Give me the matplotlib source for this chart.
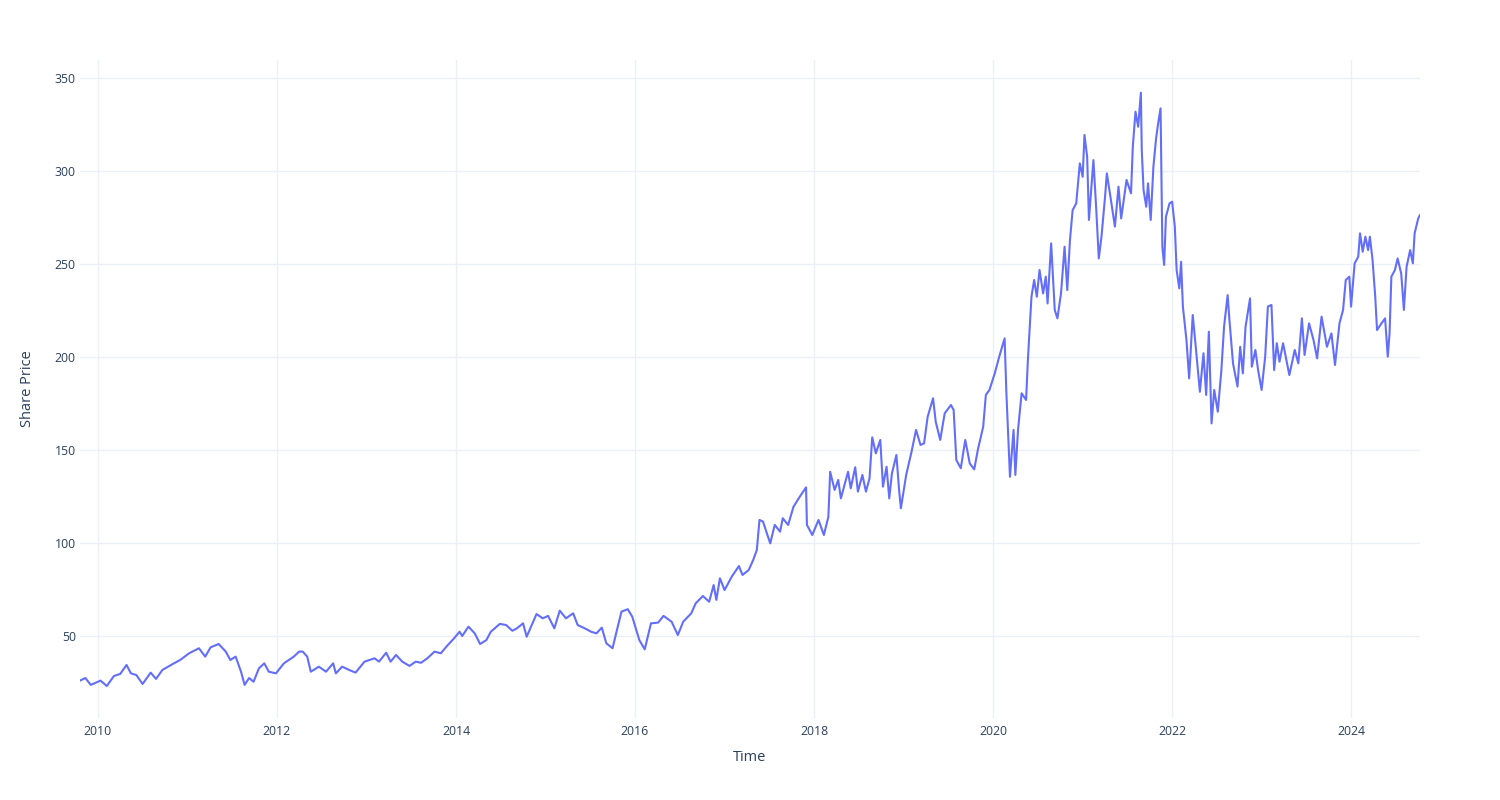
import pandas as pd
import numpy as np
import matplotlib
matplotlib.use('Agg')
import matplotlib.pyplot as plt
import matplotlib.dates as mdates

# Share price (decimal year, price)
years = [
    2009.80, 2009.86, 2009.92, 2010.03, 2010.10, 2010.18, 2010.25, 2010.32, 2010.37, 2010.43,
    2010.50, 2010.59, 2010.65, 2010.72, 2010.85, 2010.92, 2011.02, 2011.13, 2011.20, 2011.26,
    2011.35, 2011.43, 2011.48, 2011.54, 2011.60, 2011.64, 2011.69, 2011.74, 2011.80, 2011.86,
    2011.91, 2011.99, 2012.08, 2012.19, 2012.25, 2012.29, 2012.34, 2012.38, 2012.47, 2012.55,
    2012.63, 2012.66, 2012.73, 2012.81, 2012.88, 2012.98, 2013.09, 2013.14, 2013.22, 2013.27,
    2013.33, 2013.40, 2013.48, 2013.55, 2013.61, 2013.68, 2013.76, 2013.83, 2013.91, 2013.98,
    2014.04, 2014.07, 2014.14, 2014.21, 2014.27, 2014.34, 2014.39, 2014.49, 2014.56, 2014.63,
    2014.68, 2014.75, 2014.79, 2014.90, 2014.97, 2015.03, 2015.10, 2015.16, 2015.23, 2015.31,
    2015.36, 2015.44, 2015.51, 2015.57, 2015.63, 2015.68, 2015.75, 2015.79, 2015.85, 2015.92,
    2015.97, 2016.05, 2016.11, 2016.18, 2016.26, 2016.32, 2016.41, 2016.48, 2016.54, 2016.63,
    2016.68, 2016.76, 2016.83, 2016.88, 2016.91, 2016.95, 2017.00, 2017.08, 2017.16, 2017.20,
    2017.27, 2017.32, 2017.36, 2017.39, 2017.43, 2017.46, 2017.51, 2017.56, 2017.62, 2017.65,
    2017.71, 2017.77, 2017.84, 2017.91, 2017.92, 2017.98, 2018.05, 2018.11, 2018.16, 2018.18,
    2018.23, 2018.27, 2018.30, 2018.38, 2018.41, 2018.46, 2018.49, 2018.54, 2018.58, 2018.62,
    2018.65, 2018.69, 2018.74, 2018.77, 2018.81, 2018.84, 2018.87, 2018.92, 2018.95, 2018.97,
    2019.03, 2019.09, 2019.14, 2019.19, 2019.23, 2019.27, 2019.33, 2019.36, 2019.41, 2019.46,
    2019.53, 2019.56, 2019.59, 2019.64, 2019.69, 2019.74, 2019.79, 2019.83, 2019.89, 2019.92,
    2019.96, 2020.02, 2020.07, 2020.13, 2020.15, 2020.19, 2020.23, 2020.25, 2020.28, 2020.32,
    2020.37, 2020.39, 2020.43, 2020.46, 2020.49, 2020.52, 2020.56, 2020.59, 2020.61, 2020.65,
    2020.69, 2020.72, 2020.76, 2020.80, 2020.83, 2020.86, 2020.89, 2020.93, 2020.97, 2021.00,
    2021.02, 2021.05, 2021.07, 2021.12, 2021.15, 2021.18, 2021.21, 2021.25, 2021.27, 2021.31,
    2021.36, 2021.40, 2021.43, 2021.49, 2021.54, 2021.56, 2021.59, 2021.62, 2021.65, 2021.66,
    2021.68, 2021.71, 2021.73, 2021.76, 2021.79, 2021.82, 2021.84, 2021.87, 2021.89, 2021.91,
    2021.93, 2021.97, 2022.00, 2022.03, 2022.05, 2022.08, 2022.10, 2022.12, 2022.14, 2022.16,
    2022.19, 2022.23, 2022.26, 2022.31, 2022.35, 2022.38, 2022.41, 2022.44, 2022.47, 2022.51,
    2022.55, 2022.58, 2022.62, 2022.64, 2022.68, 2022.73, 2022.76, 2022.79, 2022.82, 2022.87,
    2022.89, 2022.93, 2022.96, 2023.00, 2023.04, 2023.07, 2023.11, 2023.14, 2023.17, 2023.20,
    2023.24, 2023.31, 2023.37, 2023.41, 2023.45, 2023.48, 2023.53, 2023.58, 2023.62, 2023.67,
    2023.73, 2023.78, 2023.82, 2023.87, 2023.91, 2023.94, 2023.98, 2024.00, 2024.04, 2024.08,
    2024.10, 2024.13, 2024.16, 2024.19, 2024.21, 2024.24, 2024.27, 2024.29, 2024.34, 2024.38,
    2024.41, 2024.43, 2024.45, 2024.49, 2024.52, 2024.56, 2024.59, 2024.62, 2024.66, 2024.69,
    2024.71, 2024.75, 2024.77,
]

price = [
    26.0, 27.4, 23.7, 26.0, 23.1, 28.5, 29.6, 34.4, 29.9, 29.0,
    24.2, 30.3, 26.9, 31.7, 35.3, 37.1, 40.7, 43.4, 38.9, 43.9,
    45.7, 41.6, 37.1, 38.9, 30.8, 23.7, 27.4, 25.4, 32.6, 35.3,
    30.8, 29.9, 35.3, 38.9, 41.6, 41.6, 38.9, 30.8, 33.5, 30.8,
    35.3, 29.9, 33.5, 31.7, 30.3, 36.2, 38.0, 36.2, 41.0, 36.2,
    39.8, 36.2, 33.9, 36.2, 35.6, 38.0, 41.6, 40.7, 45.2, 48.8,
    52.3, 50.0, 55.0, 51.4, 45.7, 47.8, 52.3, 56.5, 55.9, 52.8,
    54.1, 56.8, 49.6, 61.8, 59.5, 60.8, 54.1, 63.6, 59.5, 62.2,
    55.9, 54.1, 52.3, 51.4, 54.5, 46.1, 43.4, 51.4, 63.1, 64.4,
    60.4, 47.8, 42.8, 56.8, 57.2, 60.8, 57.7, 50.5, 57.7, 62.2,
    67.6, 71.5, 68.4, 77.4, 69.4, 81.0, 74.7, 81.9, 87.6, 82.8,
    85.5, 90.9, 96.2, 112.4, 111.5, 107.0, 99.8, 109.7, 106.1, 113.3,
    109.7, 119.5, 124.9, 129.9, 109.7, 104.3, 112.4, 104.3, 114.1, 138.3,
    128.5, 133.9, 124.0, 138.3, 129.4, 140.7, 127.6, 136.6, 127.6, 134.8,
    156.8, 148.2, 155.4, 130.3, 141.0, 124.0, 137.4, 147.3, 128.5, 118.7,
    136.6, 149.1, 160.8, 152.7, 153.6, 167.9, 177.8, 165.2, 155.4, 169.7,
    174.2, 171.5, 144.6, 140.2, 155.4, 142.8, 139.6, 150.0, 162.5, 179.6,
    182.3, 191.2, 200.2, 210.0, 180.5, 135.6, 160.8, 136.6, 160.8, 180.5,
    176.9, 198.4, 232.4, 241.4, 232.4, 246.8, 234.2, 243.2, 228.8, 261.1,
    225.3, 220.8, 234.2, 259.3, 236.0, 262.9, 279.0, 282.6, 304.1, 296.9,
    319.4, 307.7, 273.7, 305.9, 280.8, 253.0, 264.7, 286.2, 298.7, 286.2,
    270.1, 291.6, 274.5, 295.2, 288.0, 313.1, 331.9, 323.8, 342.1, 311.3,
    289.8, 280.8, 293.4, 273.7, 302.3, 317.5, 324.7, 333.7, 259.3, 249.5,
    275.4, 282.6, 283.5, 270.1, 246.8, 236.9, 251.2, 227.1, 218.1, 209.1,
    188.5, 222.6, 207.4, 181.3, 202.0, 179.6, 213.6, 164.3, 182.3, 170.6,
    193.0, 216.3, 233.3, 219.9, 196.6, 184.1, 205.5, 191.2, 216.3, 231.5,
    194.8, 203.8, 193.0, 182.3, 200.2, 227.1, 228.0, 193.0, 207.4, 197.5,
    207.4, 190.3, 203.8, 196.6, 220.8, 201.1, 218.1, 209.1, 199.3, 221.7,
    205.5, 212.7, 195.7, 218.1, 225.3, 241.4, 243.2, 227.1, 250.4, 253.9,
    266.5, 256.6, 264.7, 257.5, 264.7, 252.2, 232.4, 214.5, 218.1, 220.8,
    200.2, 212.7, 243.2, 246.8, 253.0, 244.9, 225.3, 248.5, 257.5, 250.4,
    266.5, 274.5, 276.3,
]

y_ticks = [50, 100, 150, 200, 250, 300, 350]


def to_date(y):
    base = pd.Timestamp(int(y), 1, 1)
    return base + pd.Timedelta(days=(y - int(y)) * 365.25)


dates = [to_date(y) for y in years]

text_color = '#2a3f5f'
grid_color = '#EBF0F8'
plt.rcParams['font.family'] = ['Open Sans', 'DejaVu Sans']

fig = plt.figure(figsize=(15, 8), dpi=100)
ax = fig.add_axes([80 / 1500, 1 - 718 / 800, 1340 / 1500, 658 / 800])

ax.plot(dates, price, color='#636EFA', linewidth=1.5, zorder=3)

ax.set_xlim(dates[0], dates[-1])
ax.set_ylim(5.9, 359.7)
ax.set_yticks(y_ticks)
ax.xaxis.set_major_locator(mdates.YearLocator(2))
ax.xaxis.set_major_formatter(mdates.DateFormatter('%Y'))

ax.grid(True, color=grid_color, linewidth=1)
ax.set_axisbelow(True)
for s in ax.spines.values():
    s.set_visible(False)
ax.tick_params(length=0, labelsize=8.8, labelcolor=text_color)
ax.tick_params(axis='y', pad=3)
ax.tick_params(axis='x', pad=5)

ax.set_xlabel('Time', fontsize=10.5, color=text_color, labelpad=9)
ax.set_ylabel('Share Price', fontsize=10.5, color=text_color, labelpad=14)

fig.savefig('out.png', dpi=100, facecolor='white')
